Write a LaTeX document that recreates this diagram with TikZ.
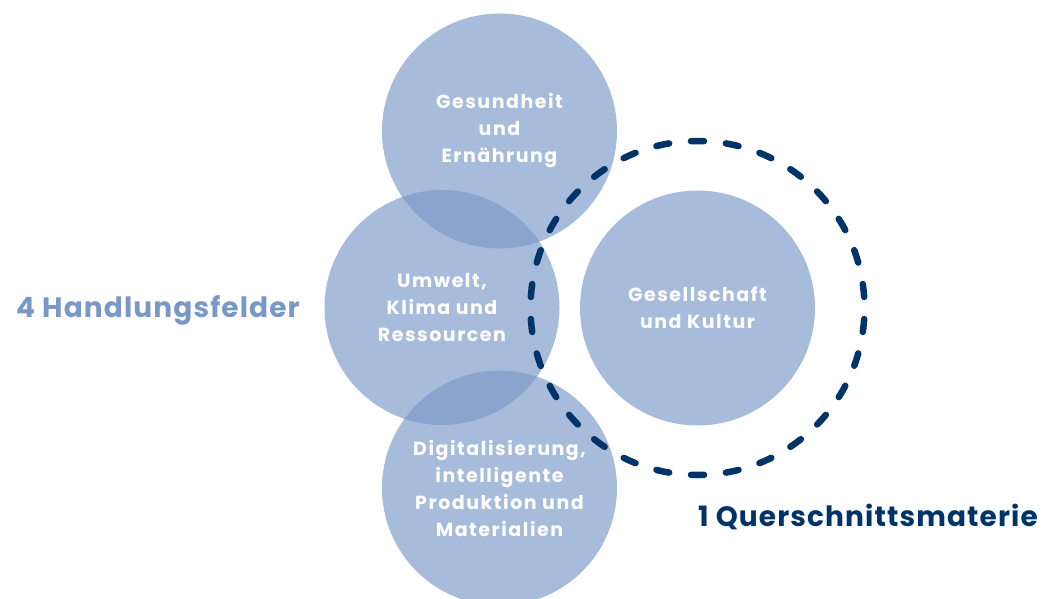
\documentclass[tikz,border=0pt]{standalone}
\usepackage{fontspec}
\setmainfont{Poppins}
\newfontfamily\fieldfont{Poppins}[LetterSpace=8]
\newfontfamily\titlefont{Poppins}[LetterSpace=4]
\usepackage{xcolor}
\usepackage{tikz}
\usetikzlibrary{positioning}
\definecolor{hfblue}{RGB}{122,152,199}
\definecolor{hfnavy}{RGB}{0,51,104}

\begin{document}
\begin{tikzpicture}[x=1pt, y=-1pt,
  field/.style={circle, minimum size=235pt, inner sep=0pt, fill=hfblue,
    fill opacity=0.66, text opacity=1, text=white, align=center,
    font=\fieldfont\fontsize{19}{27}\selectfont\bfseries},
  ring/.style={hfnavy, line width=6.5pt, line cap=round,
    dash pattern=on 13pt off 21.98pt, dash phase=24pt},
  title/.style={anchor=base west, inner sep=0pt,
    font=\titlefont\fontsize{28}{32}\selectfont\bfseries}]
\useasboundingbox (0,0) rectangle (1044,599);

% four fields
\node[field] (gesund) at (499.5,131) {Gesundheit\\und\\Ernährung};
\node[field] (umwelt) at (442,307.5) {Umwelt,\\Klima und\\Ressourcen};
\node[field] (digital) at (499.5,488) {Digitalisierung,\\intelligente\\Produktion und\\Materialien};

% cross-cutting topic
\node[field] (kultur) at (697.5,308) {Gesellschaft\\und Kultur};
\draw[ring] (kultur.center) circle[radius=167];

% titles
\node[title, text=hfblue] (hf) at (16,317) {4 Handlungsfelder};
\node[title, text=hfnavy] (qm) at (698,526) {1 Querschnittsmaterie};
\end{tikzpicture}
\end{document}
